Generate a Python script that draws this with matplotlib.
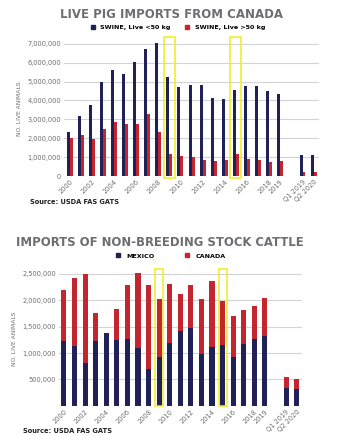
import numpy as np
import matplotlib.pyplot as plt
from matplotlib.patches import Rectangle
from matplotlib.lines import Line2D

NAVY = "#1f2157"
RED = "#c3262e"
GREY = "#6d6e71"
GRID = "#d4d4d4"
YELLOW = "#f2ec1c"

nan = np.nan

# categories: one blank slot between the annual and the quarterly figures
categories = ["2000", "2001", "2002", "2003", "2004", "2005", "2006", "2007",
              "2008", "2009", "2010", "2011", "2012", "2013", "2014", "2015",
              "2016", "2017", "2018", "2019", "", "Q1 2019", "Q2 2020"]
tick_labels = ["2000", "", "2002", "", "2004", "", "2006", "", "2008", "",
               "2010", "", "2012", "", "2014", "", "2016", "", "2018", "2019",
               "", "Q1 2019", "Q2 2020"]
highlight = ["2009", "2015"]

# live pigs from Canada (head)
swine_under50 = [2.31e6, 3.18e6, 3.75e6, 4.98e6, 5.62e6, 5.41e6, 6.01e6, 6.71e6,
                 7.03e6, 5.23e6, 4.70e6, 4.81e6, 4.81e6, 4.15e6, 4.10e6, 4.58e6,
                 4.75e6, 4.75e6, 4.51e6, 4.33e6, nan, 1.11e6, 1.11e6]
swine_over50 = [2.03e6, 2.16e6, 1.96e6, 2.47e6, 2.86e6, 2.77e6, 2.76e6, 3.29e6,
                2.31e6, 1.15e6, 1.04e6, 0.99e6, 0.87e6, 0.80e6, 0.87e6, 1.15e6,
                0.92e6, 0.83e6, 0.74e6, 0.78e6, nan, 0.21e6, 0.21e6]

# non-breeding stock cattle (head)
cattle_mexico = [1.23e6, 1.13e6, 0.805e6, 1.23e6, 1.375e6, 1.25e6, 1.26e6, 1.10e6,
                 0.695e6, 0.935e6, 1.20e6, 1.42e6, 1.475e6, 0.99e6, 1.12e6, 1.15e6,
                 0.935e6, 1.17e6, 1.27e6, 1.33e6, nan, 0.337e6, 0.318e6]
cattle_canada = [0.96e6, 1.295e6, 1.685e6, 0.52e6, 0.0, 0.575e6, 1.03e6, 1.41e6,
                 1.595e6, 1.095e6, 1.10e6, 0.705e6, 0.805e6, 1.04e6, 1.24e6, 0.83e6,
                 0.775e6, 0.636e6, 0.63e6, 0.71e6, nan, 0.208e6, 0.188e6]

plt.rcParams["font.family"] = ["DejaVu Sans"]

fig = plt.figure(figsize=(3.37, 4.36), dpi=100)
x = np.arange(len(categories))


def style_axes(ax, yticks):
    for s in ax.spines.values():
        s.set_visible(False)
    ax.set_yticks(yticks)
    ax.set_yticklabels([f"{int(v):,}" for v in yticks], fontsize=4.8, color=GREY)
    ax.yaxis.grid(True, color=GRID, lw=0.8)
    ax.set_axisbelow(True)
    ax.tick_params(axis="both", length=0, pad=2)
    ax.set_xticks(x)
    ax.set_xticklabels(tick_labels, rotation=45, ha="right",
                       rotation_mode="anchor", fontsize=4.8, color=GREY)
    ax.set_xlim(-0.5, len(categories) - 0.5)
    ax.set_ylabel("NO. LIVE ANIMALS", fontsize=4.3, color=GREY, labelpad=4)


def draw_boxes(ax, half, top, bottom):
    for name in highlight:
        i = categories.index(name)
        ax.add_patch(Rectangle((i - half, bottom), 2 * half, top - bottom,
                               fill=False, ec=YELLOW, lw=1.1, clip_on=False,
                               zorder=5))


# --- live pig imports ---
ax1 = fig.add_axes([0.190, 0.596, 0.757, 0.308])
w = 0.27
ax1.bar(x - w / 2, swine_under50, w, color=NAVY, zorder=3)
ax1.bar(x + w / 2, swine_over50, w, color=RED, zorder=3)
ax1.set_ylim(0, 7.1e6)
style_axes(ax1, [0, 1e6, 2e6, 3e6, 4e6, 5e6, 6e6, 7e6])
draw_boxes(ax1, 0.5, 7.38e6, -0.1e6)

fig.text(0.508, 0.967, "LIVE PIG IMPORTS FROM CANADA", ha="center", va="center",
         fontsize=8.5, fontweight="bold", color=GREY)
h1 = [Line2D([], [], ls="", marker="s", ms=2.2, color=NAVY),
      Line2D([], [], ls="", marker="s", ms=2.2, color=RED)]
fig.legend(h1, ["SWINE, Live <50 kg", "SWINE, Live >50 kg"], ncol=2,
           loc="center", bbox_to_anchor=(0.522, 0.938), frameon=False,
           handletextpad=0.2, columnspacing=1.6,
           prop={"size": 4.6, "weight": "bold"})
fig.text(0.09, 0.537, "Source: USDA FAS GATS", ha="left", va="center",
         fontsize=4.8, fontweight="bold", color="#231f20")

# --- non-breeding stock cattle ---
ax2 = fig.add_axes([0.174, 0.069, 0.722, 0.309])
w2 = 0.48
ax2.bar(x, cattle_mexico, w2, color=NAVY, zorder=3)
ax2.bar(x, cattle_canada, w2, bottom=cattle_mexico, color=RED, zorder=3)
ax2.set_ylim(0, 2.55e6)
style_axes(ax2, [5e5, 1e6, 1.5e6, 2e6, 2.5e6])
draw_boxes(ax2, 0.38, 2.6e6, -0.01e6)

fig.text(0.474, 0.443, "IMPORTS OF NON-BREEDING STOCK CATTLE", ha="center",
         va="center", fontsize=8.4, fontweight="bold", color=GREY)
h2 = [Line2D([], [], ls="", marker="s", ms=2.2, color=NAVY),
      Line2D([], [], ls="", marker="s", ms=2.2, color=RED)]
fig.legend(h2, ["MEXICO", "CANADA"], ncol=2, loc="center",
           bbox_to_anchor=(0.5, 0.413), frameon=False, handletextpad=0.3,
           columnspacing=4.2, prop={"size": 4.6, "weight": "bold"})
fig.text(0.068, 0.012, "Source: USDA FAS GATS", ha="left", va="center",
         fontsize=4.8, fontweight="bold", color="#231f20")

fig.savefig("out.png", dpi=100)
